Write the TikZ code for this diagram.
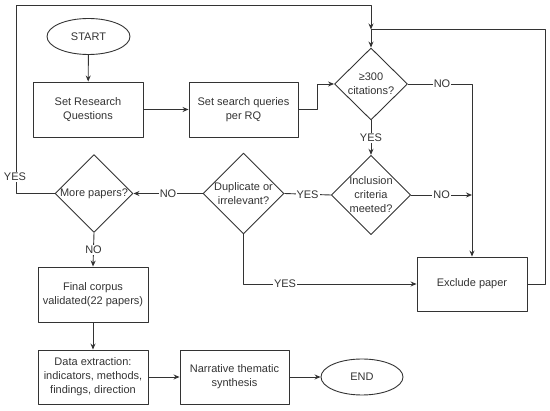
\documentclass[tikz,border=0pt]{standalone}
\usepackage{fontspec}
\setmainfont{Liberation Sans}
\usetikzlibrary{arrows.meta,shapes.geometric}

\tikzset{
  proc/.style={draw,rectangle,minimum width=110pt,minimum height=55pt,align=center,inner sep=2pt},
  term/.style={draw,ellipse,minimum width=83pt,minimum height=36pt,inner sep=0pt},
  test/.style={draw,diamond,minimum width=73pt,minimum height=72pt,inner sep=0pt,align=center},
  lbl/.style={fill=white,inner sep=1pt},
}

\begin{document}
\begin{tikzpicture}[x=1pt,y=-1pt,>={Stealth[length=6pt,width=5pt]},line join=round,
  color=black!80,line width=0.9pt,
  every node/.style={font=\fontsize{11}{14}\selectfont}]
  \useasboundingbox (0,0) rectangle (550,411);
  \node[term] (start) at (88.5,36.5) {START};
  \node[proc] (rq) at (88,109.5) {Set Research\\Questions};
  \node[proc,minimum width=109pt] (sq) at (243.5,109.5) {Set search queries\\per RQ};
  \node[test] (cit) at (371,84) {≥300\\citations?};
  \node[test,minimum height=70pt] (incl) at (371,195) {Inclusion\\criteria\\meeted?};
  \node[test,minimum height=73pt] (dup) at (243.5,193.5) {Duplicate or\\irrelevant?};
  \node[test,minimum width=78pt,minimum height=73pt] (more) at (94,193.5) {More papers?};
  \node[proc,minimum height=54pt] (excl) at (472,284) {Exclude paper};
  \node[proc] (final) at (93,294.5) {Final corpus\\validated(22 papers)};
  \node[proc,minimum height=54pt] (data) at (93,377) {Data extraction:\\indicators, methods,\\findings, direction};
  \node[proc,minimum width=109pt,minimum height=54pt] (narr) at (234.5,377) {Narrative thematic\\synthesis};
  \node[term,minimum width=82pt] (end) at (362,377) {END};
  \coordinate (join) at (371,29.5);
  \coordinate (topL) at (16,5);
  \coordinate (loopR) at (545,29.5);

  \draw[->] (start) -- (rq);
  \draw[->] (rq) -- (sq);
  \draw[->] (sq.east) -- ++(18.5,0) |- (cit.west);
  \draw[->] (cit.east) -| (excl.north) node[lbl,pos=0.5,xshift=-30pt] {NO};
  \draw[->] (cit.south) -- (incl.north) node[lbl,midway] {YES};
  \draw[->] (incl.east) -- (incl.east -| excl.north) node[lbl,midway] {NO};
  \draw (incl.west) -- (dup.east) node[lbl,midway] {YES};
  \draw[->] (dup.west) -- (more.east) node[lbl,midway] {NO};
  \draw[->] (dup.south) |- (excl.west) node[lbl,pos=0.62] {YES};
  \draw[->] (more.west) -- (topL |- more.west) -- (topL) -| (join);
  \node[lbl] (yes) at (15,177) {YES};
  \draw[->] (excl.east) -| (loopR) -- (join) -- (cit.north);
  \draw[->] (more.south) -- (final.north) node[lbl,midway] {NO};
  \draw[->] (final) -- (data);
  \draw[->] (data) -- (narr);
  \draw[->] (narr) -- (end);
\end{tikzpicture}
\end{document}
